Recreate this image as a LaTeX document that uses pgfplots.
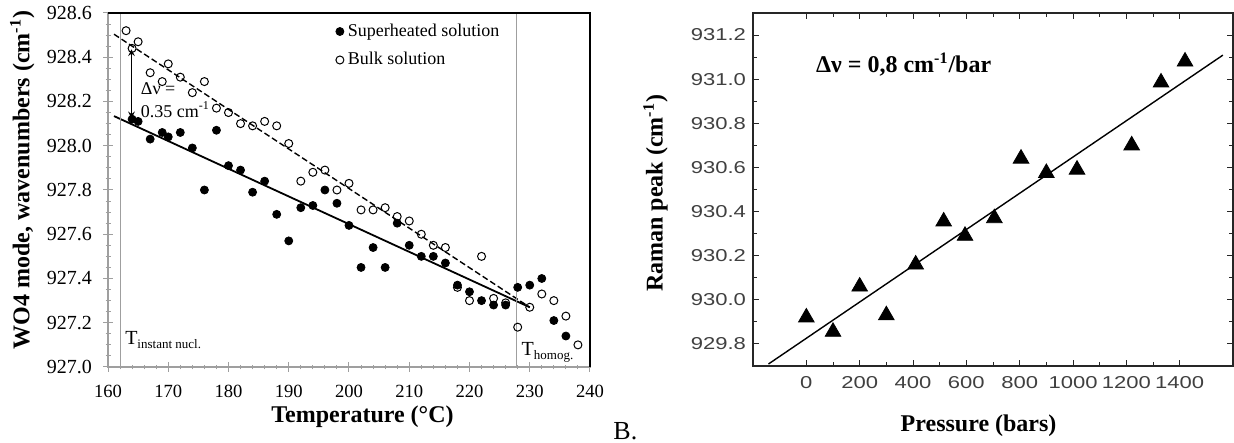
\documentclass[border=0pt]{standalone}
\usepackage{pgfplots}
\pgfplotsset{compat=1.18}
\usepackage{fontspec}
\setmainfont{Liberation Serif}
\newfontfamily\ticksans[FakeStretch=1.28]{Liberation Sans}
\pgfplotstableread{
T v
164 928.12
165 928.11
167 928.03
169 928.06
170 928.04
172 928.06
174 927.99
176 927.80
178 928.07
180 927.91
182 927.89
184 927.79
186 927.84
188 927.69
190 927.57
192 927.72
194 927.73
196 927.80
198 927.74
200 927.64
202 927.45
204 927.54
206 927.45
208 927.65
210 927.55
212 927.50
214 927.50
216 927.47
218 927.37
220 927.34
222 927.30
224 927.28
226 927.28
228 927.36
230 927.37
232 927.40
234 927.21
236 927.14
}\superheated
\pgfplotstableread{
T v
163 928.52
164 928.44
165 928.47
167 928.33
169 928.29
170 928.37
172 928.31
174 928.24
176 928.29
178 928.17
180 928.15
182 928.10
184 928.09
186 928.11
188 928.09
190 928.01
192 927.84
194 927.88
196 927.89
198 927.80
200 927.83
202 927.71
204 927.71
206 927.72
208 927.68
210 927.66
212 927.60
214 927.55
216 927.54
218 927.36
220 927.30
222 927.50
224 927.31
226 927.29
228 927.18
230 927.27
232 927.33
234 927.30
236 927.23
238 927.10
}\bulk
\pgfplotstableread{
p v
0 929.92
100 929.855
200 930.06
300 929.93
410 930.16
515 930.355
595 930.29
705 930.37
805 930.64
900 930.575
1015 930.59
1220 930.70
1330 930.985
1420 931.08
}\raman
\begin{document}
\begin{tikzpicture}
\path[use as bounding box] (0pt,0pt) rectangle (617pt,221.5pt);
\begin{axis}[
  at={(54pt,38pt)}, anchor=south west, scale only axis,
  width=241pt, height=177pt,
  xmin=160, xmax=240, ymin=927, ymax=928.6,
  xtick distance=10, ytick distance=0.2,
  minor x tick num=4, minor y tick num=3,
  xtick pos=left, ytick pos=left,
  tick align=center, major tick length=5pt, minor tick length=2.5pt,
  axis line style={draw=gray!75, line width=0.6pt},
  tick style={draw=gray!75, line width=0.5pt},
  clip=false,
  /pgf/number format/assume math mode=true,
  xticklabel style={font=\fontsize{9.3}{10}\selectfont, yshift=-3pt, /pgf/number format/fixed, /pgf/number format/precision=0},
  yticklabel style={font=\fontsize{10}{11}\selectfont, xshift=-2pt, /pgf/number format/.cd, fixed, fixed zerofill, precision=1},
  xlabel={\bfseries Temperature (°C)},
  ylabel={\bfseries WO4 mode, wavenumbers (cm\textsuperscript{-1})},
  every axis x label/.style={at={(axis description cs:0.528,-0.14)}, anchor=center, font=\fontsize{12}{14}\selectfont},
  every axis y label/.style={at={(axis description cs:-0.178,0.528)}, anchor=center, rotate=90, font=\fontsize{12}{14}\selectfont},
  legend style={at={(axis description cs:0.472,0.982)}, anchor=north west, draw=none, fill=none,
    font=\fontsize{9}{11}\selectfont, row sep=2.5pt, inner sep=0pt},
  legend cell align=left,
]
\addplot[only marks, mark=*, mark size=2pt, black] table[x=T,y=v] {\superheated};
\addlegendentry{Superheated solution}
\addplot[only marks, mark=o, mark size=2pt, black, mark options={fill=white, line width=0.5pt}] table[x=T,y=v] {\bulk};
\addlegendentry{Bulk solution}
\addplot[black, line width=0.9pt, forget plot] coordinates {(161,928.134) (230,927.27)};
\addplot[black, line width=0.7pt, dash pattern=on 3pt off 1.5pt, forget plot] coordinates {(161,928.504) (230,927.27)};
\addplot[gray!75, line width=0.6pt, forget plot] coordinates {(162.1,927) (162.1,928.6)};
\addplot[gray!75, line width=0.6pt, forget plot] coordinates {(227.8,927) (227.8,928.6)};
\draw[black, line width=0.6pt] (rel axis cs:0,1) -- (rel axis cs:1,1) -- (rel axis cs:1,0);
\draw[<->, >=stealth, line width=0.5pt] (axis cs:163.9,928.436) -- (axis cs:163.9,928.124);
\node[anchor=west, font=\fontsize{9}{10}\selectfont, inner sep=0pt] at (axis cs:165.4,928.256) {Δν =};
\node[anchor=west, font=\fontsize{9}{10}\selectfont, inner sep=0pt] at (axis cs:165.4,928.162) {0.35 cm\textsuperscript{-1}};
\node[anchor=base west, inner sep=0pt, font=\fontsize{10}{11}\selectfont] at (axis cs:162.8,927.1) {T\raisebox{-1.7pt}{\fontsize{6.5}{7}\selectfont instant nucl.}};
\node[anchor=base west, inner sep=0pt, font=\fontsize{10}{11}\selectfont] at (axis cs:228.6,927.05) {T\raisebox{-1.7pt}{\fontsize{6.5}{7}\selectfont homog.}};
\end{axis}
\begin{axis}[
  at={(376.5pt,38.5pt)}, anchor=south west, scale only axis,
  width=240pt, height=176.5pt,
  xmin=-200, xmax=1600, ymin=929.7, ymax=931.3,
  xtick={0,200,400,600,800,1000,1200,1400},
  ytick={929.8,930,930.2,930.4,930.6,930.8,931,931.2},
  minor x tick num=1, minor y tick num=1,
  tick align=inside, major tick length=3pt, minor tick length=2pt,
  axis line style={draw=black!85, line width=0.7pt},
  tick style={draw=black!85, line width=0.5pt},
  clip=false,
  /pgf/number format/assume math mode=true,
  /pgf/number format/1000 sep={},
  ticklabel style={font=\ticksans\fontsize{8.6}{9}\selectfont, text=black!75},
  xticklabel style={yshift=-1.5pt},
  yticklabel style={/pgf/number format/.cd, fixed, fixed zerofill, precision=1},
  xlabel={\bfseries Pressure (bars)},
  ylabel={\bfseries Raman peak (cm\textsuperscript{-1})},
  every axis x label/.style={at={(axis description cs:0.47,-0.168)}, anchor=center, font=\fontsize{12}{14}\selectfont},
  every axis y label/.style={at={(axis description cs:-0.203,0.489)}, anchor=center, rotate=90, font=\fontsize{12}{14}\selectfont},
]
\addplot[only marks, mark=triangle*, mark size=4.5pt, black] table[x=p,y=v] {\raman};
\addplot[black, line width=0.7pt] coordinates {(-142,929.709) (1562,931.109)};
\node[anchor=base west, inner sep=0pt, font=\bfseries\fontsize{12}{14}\selectfont] at (axis cs:35,931.03) {Δν = 0,8 cm\textsuperscript{-1}/bar};
\end{axis}
\node[anchor=base west, inner sep=0pt, font=\fontsize{13}{14}\selectfont] at (306.5pt,1.5pt) {B.};
\end{tikzpicture}
\end{document}
